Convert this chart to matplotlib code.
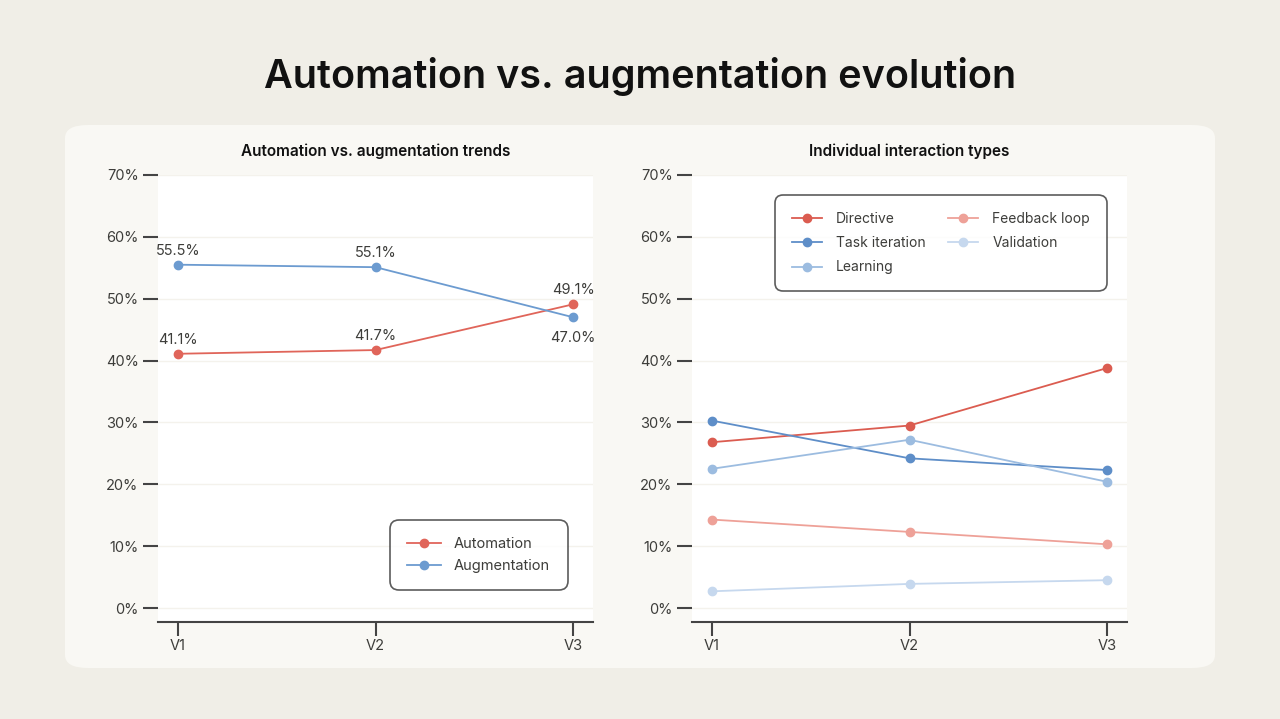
import matplotlib.pyplot as plt
from matplotlib.patches import FancyBboxPatch

plt.rcParams['font.family'] = ['Inter', 'DejaVu Sans']

versions = ["V1", "V2", "V3"]

automation = [41.1, 41.7, 49.1]
augmentation = [55.5, 55.1, 47.0]

directive = [26.8, 29.5, 38.8]
task_iteration = [30.3, 24.2, 22.3]
learning = [22.5, 27.2, 20.4]
feedback_loop = [14.3, 12.3, 10.3]
validation = [2.7, 3.9, 4.5]

yticks = [0, 10, 20, 30, 40, 50, 60, 70]
text_col = "#3d3d3a"

fig = plt.figure(figsize=(12.8, 7.19), dpi=100)
fig.patch.set_facecolor("#F0EEE7")

panel = FancyBboxPatch((65 / 1280, 1 - 668 / 719), 1150 / 1280, 543 / 719,
                       boxstyle="round,pad=0,rounding_size=0.018",
                       transform=fig.transFigure, facecolor="#F9F8F4",
                       edgecolor="none", zorder=-10)
fig.patches.append(panel)

fig.text(0.5, 1 - 77 / 719, "Automation vs. augmentation evolution",
         ha="center", va="center", fontsize=28.5, fontweight="semibold", color="#111111")

ax1 = fig.add_axes([158 / 1280, 97 / 719, 435 / 1280, 447 / 719])
ax2 = fig.add_axes([692 / 1280, 97 / 719, 435 / 1280, 447 / 719])


def style(ax, title):
    ax.set_facecolor("white")
    ax.set_xlim(-0.1, 2.1)
    ax.set_ylim(-2.26, 70)
    ax.set_xticks(range(len(versions)))
    ax.set_xticklabels(versions)
    ax.set_yticks(yticks)
    ax.set_yticklabels([f"{t}%" for t in yticks])
    for s in ["top", "right", "left"]:
        ax.spines[s].set_visible(False)
    ax.spines["bottom"].set_color("#444444")
    ax.spines["bottom"].set_linewidth(1.5)
    ax.tick_params(axis="y", length=11, width=1.5, color="#444444",
                   labelcolor=text_col, labelsize=10.5, pad=3)
    ax.tick_params(axis="x", length=10, width=1.5, color="#444444",
                   labelcolor=text_col, labelsize=10.5, pad=2)
    ax.grid(axis="y", color="#F4F2EC", linewidth=1)
    ax.set_axisbelow(True)
    ax.set_title(title, fontsize=11, fontweight="semibold", color="#111111", pad=14)


style(ax1, "Automation vs. augmentation trends")
style(ax2, "Individual interaction types")

x = range(len(versions))
ax1.plot(x, automation, "-o", color="#E0655A", lw=1.3, ms=6, label="Automation")
ax1.plot(x, augmentation, "-o", color="#6C9BD0", lw=1.3, ms=6, label="Augmentation")

for i, v in enumerate(automation):
    ax1.annotate(f"{v:.1f}%", (i, v), xytext=(0, 5), textcoords="offset points",
                 ha="center", va="bottom", fontsize=10.5, color=text_col)
for i, v in enumerate(augmentation):
    off = -10 if i == 2 else 5
    ax1.annotate(f"{v:.1f}%", (i, v), xytext=(0, off), textcoords="offset points",
                 ha="center", va="top" if off < 0 else "bottom", fontsize=10.5, color=text_col)

leg1 = ax1.legend(loc="lower right", bbox_to_anchor=(0.945, 0.068), fontsize=10.5,
                  frameon=True, borderpad=0.8, handlelength=2.3, labelspacing=0.5,
                  handletextpad=0.9, borderaxespad=0.5)
leg1.get_frame().set_edgecolor("#333333")
leg1.get_frame().set_linewidth(1.2)
leg1.get_frame().set_boxstyle("round,pad=0.4,rounding_size=0.6")
for t in leg1.get_texts():
    t.set_color(text_col)

series = [
    ("Directive", directive, "#DB5C50"),
    ("Task iteration", task_iteration, "#5E8EC8"),
    ("Learning", learning, "#9CBCE0"),
    ("Feedback loop", feedback_loop, "#EEA198"),
    ("Validation", validation, "#C6D8EE"),
]
for name, vals, col in series:
    ax2.plot(x, vals, "-o", color=col, lw=1.3, ms=6, label=name)

leg2 = ax2.legend(loc="upper left", bbox_to_anchor=(0.2, 0.946), ncol=2, fontsize=10,
                  frameon=True, borderpad=0.9, handlelength=2.2, labelspacing=0.75,
                  handletextpad=1.0, columnspacing=1.6, borderaxespad=0)
leg2.get_frame().set_edgecolor("#333333")
leg2.get_frame().set_linewidth(1.2)
leg2.get_frame().set_boxstyle("round,pad=0.3,rounding_size=0.6")
for t in leg2.get_texts():
    t.set_color(text_col)

fig.savefig("out.png", dpi=100, facecolor=fig.get_facecolor())
